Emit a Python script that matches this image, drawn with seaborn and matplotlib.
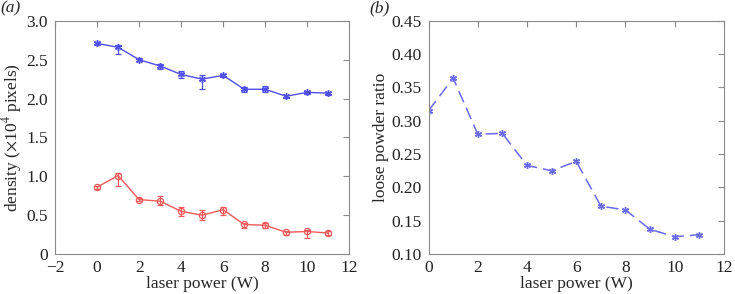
#!/usr/bin/env python3
"""Density and loose powder ratio vs laser power, two panels."""

import matplotlib.pyplot as plt
import pandas as pd
import seaborn as sns

POWER = [0, 1, 2, 3, 4, 5, 6, 7, 8, 9, 10, 11]

# panel (a): density in units of 1e4 pixels, asymmetric error bars
BLUE_DENSITY = [2.71, 2.66, 2.50, 2.42, 2.31, 2.25, 2.30, 2.12, 2.12, 2.03, 2.08, 2.07]
BLUE_ERR_LO = [0.02, 0.09, 0.02, 0.04, 0.05, 0.13, 0.02, 0.03, 0.03, 0.02, 0.02, 0.02]
BLUE_ERR_HI = [0.02, 0.03, 0.02, 0.03, 0.04, 0.05, 0.02, 0.03, 0.04, 0.02, 0.02, 0.02]
RED_DENSITY = [0.86, 1.01, 0.70, 0.68, 0.55, 0.50, 0.57, 0.38, 0.37, 0.28, 0.29, 0.27]
RED_ERR_LO = [0.02, 0.14, 0.02, 0.05, 0.06, 0.06, 0.07, 0.04, 0.03, 0.03, 0.08, 0.02]
RED_ERR_HI = [0.02, 0.03, 0.02, 0.07, 0.05, 0.07, 0.03, 0.02, 0.03, 0.02, 0.02, 0.02]

# panel (b)
LOOSE_RATIO = [0.315, 0.364, 0.280, 0.281, 0.233, 0.225, 0.239, 0.172, 0.166, 0.137, 0.126, 0.129]

BLUE = "#4f4fec"
BLUE_LIGHT = "#6a6af0"
RED = "#f05a5a"
SERIF = ["Liberation Serif", "DejaVu Serif"]
ASTERISK = (6, 2, 0)


def style_axes(ax):
    for spine in ax.spines.values():
        spine.set_color("#8a8a8a")
        spine.set_linewidth(0.8)
    ax.tick_params(direction="in", top=True, right=True, length=4,
                   color="#8a8a8a", labelsize=12.5, labelcolor="#222222")
    ax.tick_params(axis="y", pad=5)
    ax.tick_params(axis="x", pad=4)


def main():
    sns.set_style("white")
    plt.rcParams["font.family"] = SERIF
    plt.rcParams["mathtext.fontset"] = "stix"

    df_a = pd.DataFrame({
        "power": POWER * 2,
        "density": BLUE_DENSITY + RED_DENSITY,
        "lo": BLUE_ERR_LO + RED_ERR_LO,
        "hi": BLUE_ERR_HI + RED_ERR_HI,
        "series": ["blue"] * len(POWER) + ["red"] * len(POWER),
    })
    df_b = pd.DataFrame({"power": POWER, "ratio": LOOSE_RATIO})

    fig = plt.figure(figsize=(7.35, 2.94), dpi=100)
    ax1 = fig.add_axes([0.075, 0.136, 0.400, 0.793])
    ax2 = fig.add_axes([0.583, 0.136, 0.402, 0.793])

    palette = {"blue": BLUE, "red": RED}
    for name, grp in df_a.groupby("series"):
        col = palette[name]
        ax1.errorbar(grp["power"], grp["density"], yerr=[grp["lo"], grp["hi"]], fmt="none",
                     ecolor=col, elinewidth=0.9, capsize=2.5, capthick=0.9)
        if name == "red":
            sns.lineplot(data=grp, x="power", y="density", ax=ax1, color=col,
                         marker="o", markersize=4.5, markerfacecolor="none",
                         markeredgecolor=col, markeredgewidth=0.9,
                         linewidth=1.0, legend=False)
        else:
            sns.lineplot(data=grp, x="power", y="density", ax=ax1, color=col,
                         marker=ASTERISK, markersize=5, markeredgecolor=col,
                         markeredgewidth=1.0, linewidth=1.0, legend=False)

    ax1.set_xlim(-2, 12)
    ax1.set_ylim(0, 3.0)
    ax1.set_xticks(range(-2, 13, 2))
    ax1.set_xticklabels(["\u22122", "0", "2", "4", "6", "8", "10", "12"])
    ax1.set_yticks([0, 0.5, 1.0, 1.5, 2.0, 2.5, 3.0])
    ax1.set_yticklabels(["0", "0.5", "1.0", "1.5", "2.0", "2.5", "3.0"])
    ax1.set_xlabel("laser power (W)", fontsize=12.5, labelpad=0)
    ax1.set_ylabel(r"density ($\times$10$^4$ pixels)", fontsize=12.5, labelpad=2)
    style_axes(ax1)

    sns.lineplot(data=df_b, x="power", y="ratio", ax=ax2, color=BLUE_LIGHT,
                 marker=ASTERISK, markersize=5, markeredgecolor=BLUE_LIGHT,
                 markeredgewidth=1.0, linewidth=1.1, legend=False)
    ax2.lines[-1].set_dashes((8, 4))
    ax2.set_xlim(0, 12)
    ax2.set_ylim(0.10, 0.45)
    ax2.set_xticks(range(0, 13, 2))
    ax2.set_yticks([0.10, 0.15, 0.20, 0.25, 0.30, 0.35, 0.40, 0.45])
    ax2.set_yticklabels([f"{v:.2f}" for v in ax2.get_yticks()])
    ax2.set_xlabel("laser power (W)", fontsize=12.5, labelpad=0)
    ax2.set_ylabel("loose powder ratio", fontsize=12.5, labelpad=2)
    style_axes(ax2)

    fig.text(0.0, 0.998, "(a)", fontsize=12.5, style="italic", va="top", ha="left")
    fig.text(0.503, 0.998, "(b)", fontsize=12.5, style="italic", va="top", ha="left")

    fig.savefig("out.png", dpi=100)
    plt.close(fig)


if __name__ == "__main__":
    main()
